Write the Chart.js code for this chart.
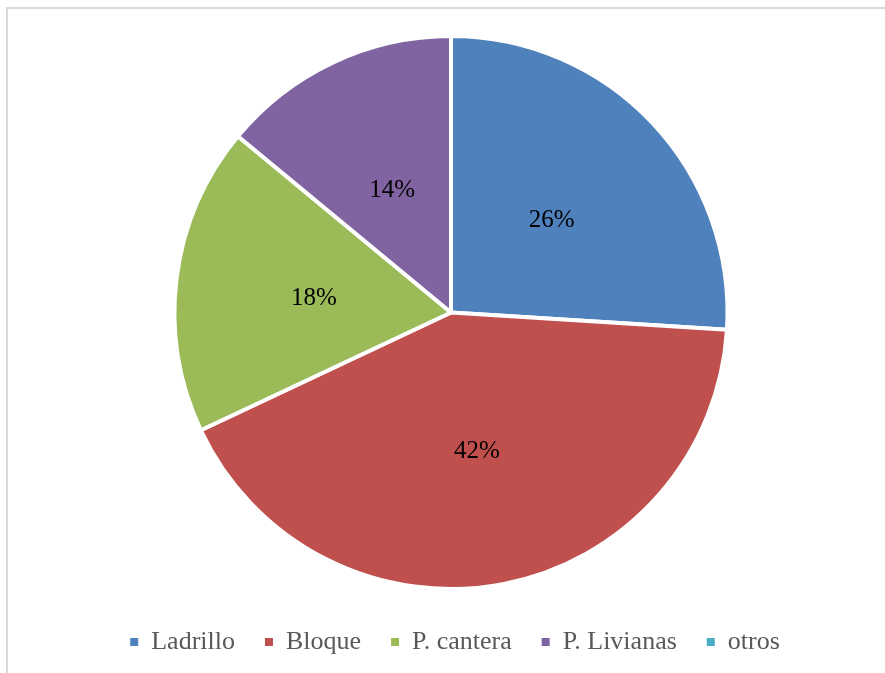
<!DOCTYPE html>
<html>
<head>
<meta charset="utf-8">
<script src="https://cdn.jsdelivr.net/npm/chart.js@4/dist/chart.umd.min.js"></script>
<style>
  html, body { margin: 0; padding: 0; background: #ffffff; }
  #wrap { position: relative; width: 885px; height: 673px; overflow: hidden; }
  #frame { position: absolute; left: 6px; top: 7px; width: 900px; height: 700px;
           border-left: 2px solid #d9d9d9; border-top: 2px solid #d9d9d9; box-sizing: border-box; }
  canvas { position: absolute; left: 0; top: 0; }
</style>
</head>
<body>
<div id="wrap">
  <div id="frame"></div>
  <canvas id="c" width="885" height="673"></canvas>
</div>
<script>
const categories = ["Ladrillo", "Bloque", "P. cantera", "P. Livianas", "otros"];
const values = [26, 42, 18, 14, 0];
const colors = ["#4F81BD", "#C0504D", "#9BBB59", "#8064A2", "#4BACC6"];

const labelPlugin = {
  id: 'sliceLabels',
  afterLayout(chart) {
    if (chart.legend) { chart.legend.left += 4; chart.legend.right += 4; }
  },
  afterDatasetsDraw(chart) {
    const ctx = chart.ctx;
    const meta = chart.getDatasetMeta(0);
    const data = chart.data.datasets[0].data;
    const total = data.reduce((a, b) => a + b, 0);
    ctx.save();
    ctx.font = '25px "Liberation Serif", "Times New Roman", serif';
    ctx.fillStyle = '#000000';
    ctx.textAlign = 'center';
    ctx.textBaseline = 'middle';
    meta.data.forEach((arc, i) => {
      if (!data[i]) return;
      const p = arc.getCenterPoint();
      ctx.fillText(Math.round(data[i] / total * 100) + '%', p.x, p.y + 3);
    });
    ctx.restore();
  }
};

new Chart(document.getElementById('c'), {
  type: 'pie',
  data: {
    labels: categories,
    datasets: [{
      data: values,
      backgroundColor: colors,
      borderColor: '#ffffff',
      borderWidth: 4,
      radius: 276.5
    }]
  },
  options: {
    responsive: false,
    animation: false,
    layout: { padding: { top: 26, left: 17, right: 0, bottom: 8 } },
    plugins: {
      tooltip: { enabled: false },
      legend: {
        position: 'bottom',
        labels: {
          boxWidth: 8,
          boxHeight: 8,
          padding: 30,
          color: '#595959',
          font: { family: '"Liberation Serif", "Times New Roman", serif', size: 26 },
          generateLabels(chart) {
            const ds = chart.data.datasets[0];
            return chart.data.labels.map((t, i) => ({
              text: t,
              fillStyle: ds.backgroundColor[i],
              strokeStyle: ds.backgroundColor[i],
              lineWidth: 0,
              fontColor: '#595959',
              hidden: false,
              index: i
            }));
          }
        }
      }
    }
  },
  plugins: [labelPlugin]
});
</script>
</body>
</html>
